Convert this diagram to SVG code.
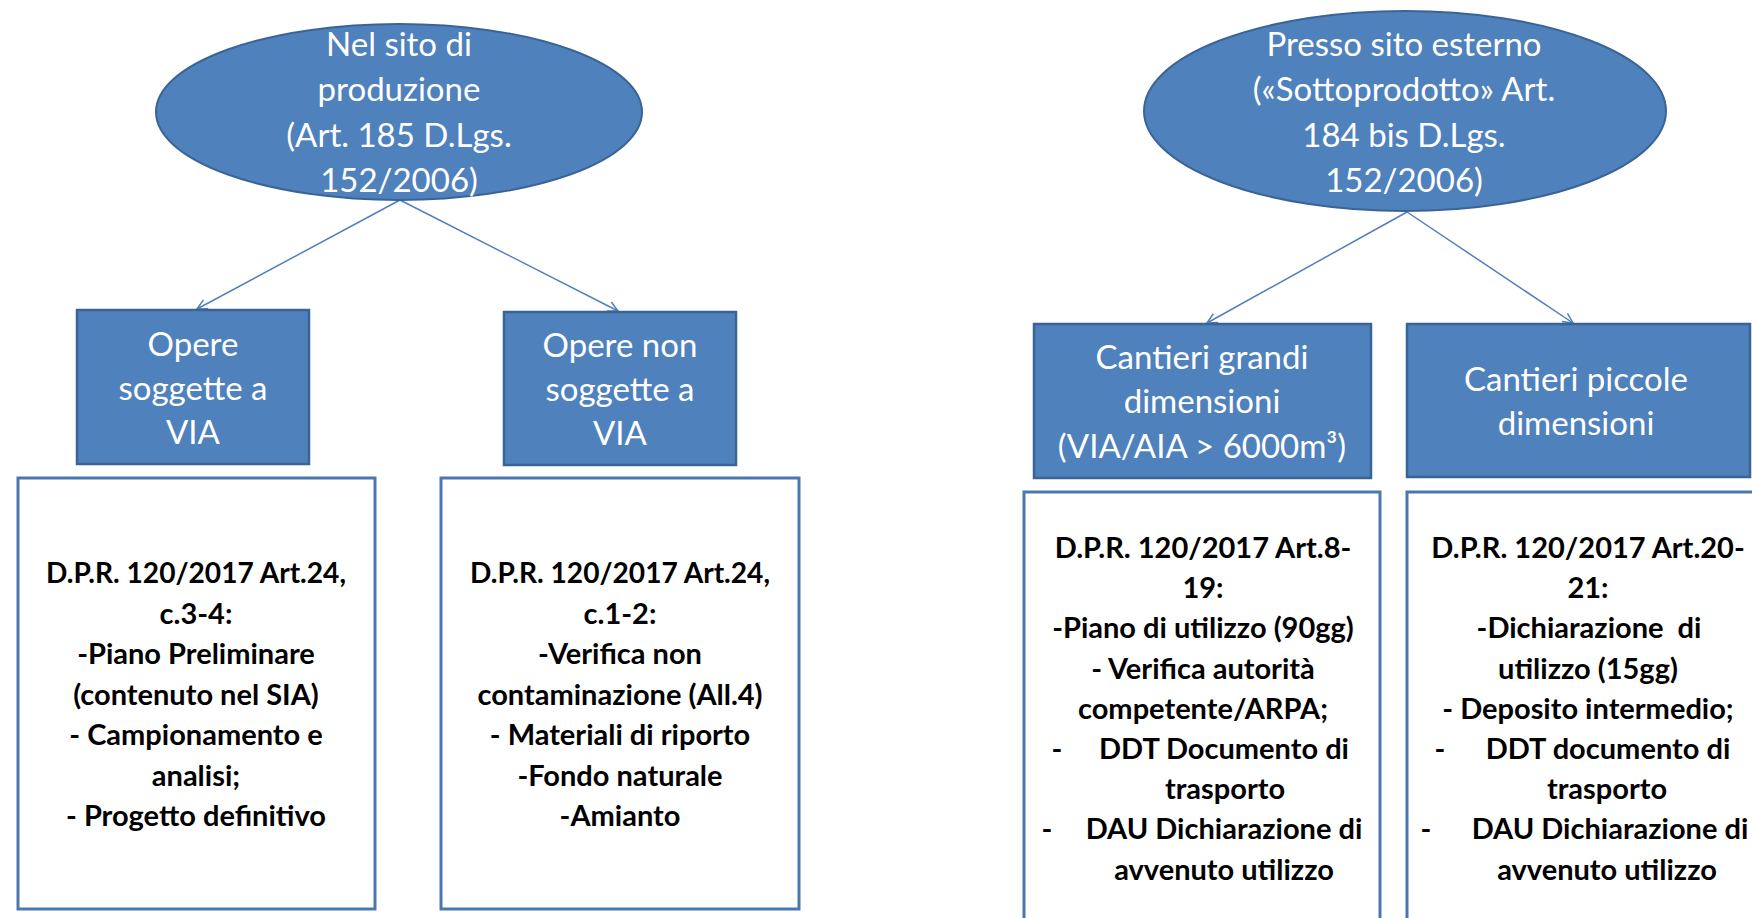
<svg xmlns="http://www.w3.org/2000/svg" width="1752" height="918" viewBox="0 0 1752 918">
<defs>
<style>
.bg{fill:#ffffff}
.ell{fill:#4f81bd;stroke:#3a6496;stroke-width:2}
.hdr{fill:#4f81bd;stroke:#3a6496;stroke-width:2.5}
.box{fill:#ffffff;stroke:#4a77b0;stroke-width:3}
.wt{font-family:Lato,"Open Sans","Liberation Sans",sans-serif;font-size:33px;fill:#ffffff;text-anchor:middle}
.bt{font-family:Lato,"Open Sans","Liberation Sans",sans-serif;font-size:29px;font-weight:bold;fill:#000000;text-anchor:middle}
.con{stroke:#4f7fbd;stroke-width:1.5;fill:none}
</style>
<marker id="arr" markerUnits="userSpaceOnUse" markerWidth="14" markerHeight="14" refX="11" refY="6" orient="auto">
<path d="M1,1 L11,6 L1,11" fill="none" stroke="#4f7fbd" stroke-width="1.5"/>
</marker>
</defs>
<rect class="bg" x="0" y="0" width="1752" height="918"/>
<g id="connectors">
<line class="con" x1="400" y1="200" x2="197" y2="309" marker-end="url(#arr)"/>
<line class="con" x1="400" y1="200" x2="618" y2="311" marker-end="url(#arr)"/>
<line class="con" x1="1407" y1="212" x2="1207" y2="323" marker-end="url(#arr)"/>
<line class="con" x1="1407" y1="212" x2="1573" y2="323" marker-end="url(#arr)"/>
</g>
<g id="node-nel-sito">
<ellipse class="ell" cx="399" cy="112" rx="243" ry="88"/>
<text class="wt" x="399" y="56">Nel sito di</text>
<text class="wt" x="399" y="101">produzione</text>
<text class="wt" x="399" y="147">(Art. 185 D.Lgs.</text>
<text class="wt" x="399" y="192">152/2006)</text>
</g>
<g id="node-presso-sito">
<ellipse class="ell" cx="1405" cy="111" rx="261" ry="100"/>
<text class="wt" x="1404" y="56">Presso sito esterno</text>
<text class="wt" x="1404" y="101">(«Sottoprodotto» Art.</text>
<text class="wt" x="1404" y="147">184 bis D.Lgs.</text>
<text class="wt" x="1404" y="192">152/2006)</text>
</g>
<g id="node-opere-via">
<rect class="hdr" x="77" y="310" width="232" height="154"/>
<text class="wt" x="193" y="356">Opere</text>
<text class="wt" x="193" y="400">soggette a</text>
<text class="wt" x="193" y="444">VIA</text>
</g>
<g id="node-opere-non-via">
<rect class="hdr" x="504" y="312" width="232" height="153"/>
<text class="wt" x="620" y="357">Opere non</text>
<text class="wt" x="620" y="401">soggette a</text>
<text class="wt" x="620" y="445">VIA</text>
</g>
<g id="node-cantieri-grandi">
<rect class="hdr" x="1034" y="324" width="337" height="154"/>
<text class="wt" x="1202" y="369">Cantieri grandi</text>
<text class="wt" x="1202" y="413">dimensioni</text>
<text class="wt" x="1202" y="458">(VIA/AIA &gt; 6000m³)</text>
</g>
<g id="node-cantieri-piccole">
<rect class="hdr" x="1407" y="324" width="343" height="153"/>
<text class="wt" x="1576" y="391">Cantieri piccole</text>
<text class="wt" x="1576" y="435">dimensioni</text>
</g>
<g id="node-box-a">
<rect class="box" x="18" y="478" width="357" height="431"/>
<text class="bt" x="196" y="583" textLength="300" lengthAdjust="spacingAndGlyphs">D.P.R. 120/2017 Art.24,</text>
<text class="bt" x="196" y="624">c.3-4:</text>
<text class="bt" x="196" y="664">-Piano Preliminare</text>
<text class="bt" x="196" y="705">(contenuto nel SIA)</text>
<text class="bt" x="196" y="745">- Campionamento e</text>
<text class="bt" x="196" y="786">analisi;</text>
<text class="bt" x="196" y="826">- Progetto definitivo</text>
</g>
<g id="node-box-b">
<rect class="box" x="441" y="478" width="358" height="431"/>
<text class="bt" x="620" y="583" textLength="300" lengthAdjust="spacingAndGlyphs">D.P.R. 120/2017 Art.24,</text>
<text class="bt" x="620" y="624">c.1-2:</text>
<text class="bt" x="620" y="664">-Verifica non</text>
<text class="bt" x="620" y="705">contaminazione (All.4)</text>
<text class="bt" x="620" y="745">- Materiali di riporto</text>
<text class="bt" x="620" y="786">-Fondo naturale</text>
<text class="bt" x="620" y="826">-Amianto</text>
</g>
<g id="node-box-e">
<rect class="box" x="1024" y="492" width="356" height="450"/>
<text class="bt" x="1203" y="558">D.P.R. 120/2017 Art.8-</text>
<text class="bt" x="1203" y="598">19:</text>
<text class="bt" x="1203" y="638">-Piano di utilizzo (90gg)</text>
<text class="bt" x="1203" y="679">- Verifica autorità</text>
<text class="bt" x="1203" y="719">competente/ARPA;</text>
<text class="bt" x="1057" y="759">-</text>
<text class="bt" x="1224" y="759">DDT Documento di</text>
<text class="bt" x="1225" y="799">trasporto</text>
<text class="bt" x="1047" y="839">-</text>
<text class="bt" x="1224" y="839">DAU Dichiarazione di</text>
<text class="bt" x="1224" y="880">avvenuto utilizzo</text>
</g>
<g id="node-box-f">
<rect class="box" x="1407" y="492" width="360" height="450"/>
<text class="bt" x="1588" y="558">D.P.R. 120/2017 Art.20-</text>
<text class="bt" x="1588" y="598">21:</text>
<text class="bt" x="1589" y="638" xml:space="preserve">-Dichiarazione  di</text>
<text class="bt" x="1588" y="679">utilizzo (15gg)</text>
<text class="bt" x="1588" y="719">- Deposito intermedio;</text>
<text class="bt" x="1440" y="759">-</text>
<text class="bt" x="1608" y="759">DDT documento di</text>
<text class="bt" x="1607" y="799">trasporto</text>
<text class="bt" x="1426" y="839">-</text>
<text class="bt" x="1610" y="839">DAU Dichiarazione di</text>
<text class="bt" x="1607" y="880">avvenuto utilizzo</text>
</g>
</svg>
